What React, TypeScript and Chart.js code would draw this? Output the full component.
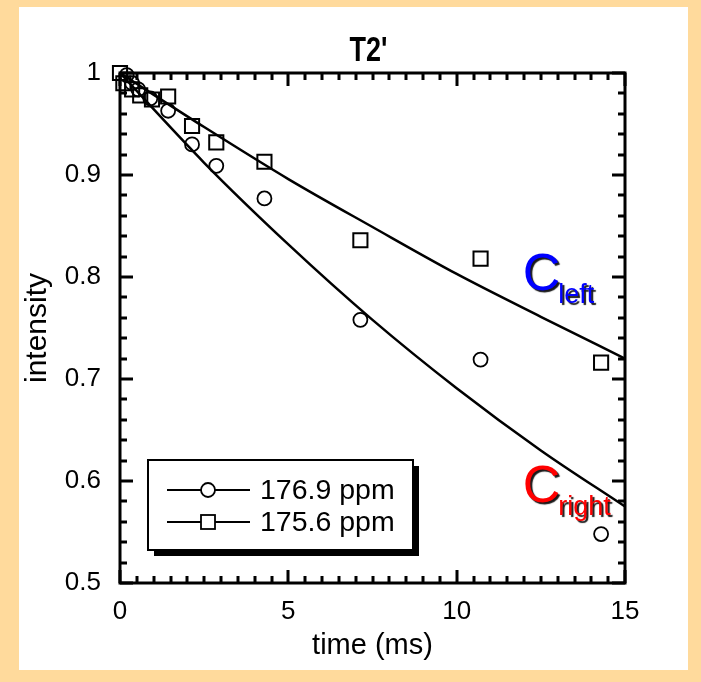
import React, { useEffect, useRef } from "react";
import { Chart, registerables } from "chart.js";

Chart.register(...registerables);

// ---------- data ----------
const CHART_TITLE = "T2'";
const X_TITLE = "time (ms)";
const Y_TITLE = "intensity";

const SERIES_A_LABEL = "176.9 ppm"; // circles
const SERIES_B_LABEL = "175.6 ppm"; // squares

const A_TIME = [0.2, 0.36, 0.54, 0.9, 1.43, 2.14, 2.86, 4.29, 7.14, 10.71, 14.29];
const A_VALUE = [0.998, 0.99, 0.984, 0.975, 0.963, 0.93, 0.909, 0.877, 0.758, 0.719, 0.548];

const B_TIME = [0, 0.1, 0.36, 0.6, 0.95, 1.43, 2.14, 2.86, 4.29, 7.14, 10.71, 14.29];
const B_VALUE = [1.0, 0.99, 0.984, 0.978, 0.974, 0.977, 0.948, 0.932, 0.913, 0.836, 0.818, 0.716];

const FIT_TIME = [0, 2.5, 5, 7.5, 10, 12.5, 15];
const FIT_A = [1.0, 0.912, 0.832, 0.758, 0.691, 0.63, 0.575];
const FIT_B = [1.0, 0.947, 0.896, 0.849, 0.803, 0.761, 0.72];

const X_MIN = 0;
const X_MAX = 15;
const X_MAJOR = [0, 5, 10, 15];
const X_MINOR_STEP = 0.5;
const Y_MIN = 0.5;
const Y_MAX = 1.0;
const Y_MAJOR = [0.5, 0.6, 0.7, 0.8, 0.9, 1.0];
const Y_MINOR_STEP = 0.02;

const ANNOTATIONS = [
  { main: "C", sub: "left", color: "#0000FF", t: 11.96, v: 0.787 },
  { main: "C", sub: "right", color: "#FF0000", t: 11.96, v: 0.579 },
];

// ---------- style ----------
const FONT = "'Liberation Sans', Arial, Helvetica, sans-serif";
const ORANGE = "#FFDA9C";

const pageBgPlugin = {
  id: "pageBg",
  beforeDraw(chart: any) {
    const { ctx, width, height } = chart;
    ctx.save();
    ctx.fillStyle = ORANGE;
    ctx.fillRect(0, 0, width, height);
    ctx.fillStyle = "#FFFFFF";
    ctx.fillRect(19, 7, 669, 663);
    ctx.restore();
  },
};

const framePlugin = {
  id: "frameTicks",
  afterDatasetsDraw(chart: any) {
    const { ctx, chartArea: ca, scales } = chart;
    const xs = scales.x;
    const ys = scales.y;
    ctx.save();
    ctx.strokeStyle = "#000";
    ctx.lineWidth = 3;
    ctx.lineCap = "butt";
    const isMajor = (v: number, majors: number[]) => majors.some((m) => Math.abs(m - v) < 1e-6);
    const nx = Math.round((X_MAX - X_MIN) / X_MINOR_STEP);
    for (let i = 0; i <= nx; i++) {
      const v = X_MIN + i * X_MINOR_STEP;
      const px = Math.round(xs.getPixelForValue(v));
      const len = isMajor(v, X_MAJOR) ? 13 : 7;
      ctx.beginPath();
      ctx.moveTo(px, ca.bottom);
      ctx.lineTo(px, ca.bottom - len);
      ctx.moveTo(px, ca.top);
      ctx.lineTo(px, ca.top + len);
      ctx.stroke();
    }
    const ny = Math.round((Y_MAX - Y_MIN) / Y_MINOR_STEP);
    for (let i = 0; i <= ny; i++) {
      const v = Y_MIN + i * Y_MINOR_STEP;
      const py = Math.round(ys.getPixelForValue(v));
      const len = isMajor(v, Y_MAJOR) ? 13 : 7;
      ctx.beginPath();
      ctx.moveTo(ca.left, py);
      ctx.lineTo(ca.left + len, py);
      ctx.moveTo(ca.right, py);
      ctx.lineTo(ca.right - len, py);
      ctx.stroke();
    }
    ctx.strokeRect(ca.left, ca.top, ca.right - ca.left, ca.bottom - ca.top);
    ctx.restore();
  },
  afterDraw(chart: any) {
    const { ctx, chartArea: ca, scales } = chart;

    // title (tall bold glyphs as in the reference)
    ctx.save();
    ctx.translate((ca.left + ca.right) / 2 - 4, ca.top - 22);
    ctx.scale(1, 1.3);
    ctx.fillStyle = "#000";
    ctx.font = `bold 27px ${FONT}`;
    ctx.textAlign = "center";
    ctx.textBaseline = "middle";
    ctx.fillText(CHART_TITLE, 0, 0);
    ctx.restore();

    // annotations
    ctx.save();
    for (const a of ANNOTATIONS) {
      const x = scales.x.getPixelForValue(a.t);
      const y = scales.y.getPixelForValue(a.v);
      ctx.shadowColor = "rgba(0,0,0,0.9)";
      ctx.shadowOffsetX = 2;
      ctx.shadowOffsetY = 2;
      ctx.shadowBlur = 1;
      ctx.fillStyle = a.color;
      ctx.textAlign = "left";
      ctx.textBaseline = "alphabetic";
      ctx.font = `52px ${FONT}`;
      ctx.fillText(a.main, x, y);
      const w = ctx.measureText(a.main).width;
      ctx.font = `27px ${FONT}`;
      ctx.fillText(a.sub, x + w - 2, y + 13);
    }
    ctx.restore();

    // legend box
    const lx = ca.left + 28;
    const ly = ca.top + 387;
    const lw = 265;
    const lh = 90;
    const sh = 6;
    ctx.save();
    ctx.fillStyle = "#000";
    ctx.beginPath();
    ctx.moveTo(lx + lw, ly + sh);
    ctx.lineTo(lx + lw + sh, ly + sh);
    ctx.lineTo(lx + lw + sh, ly + lh + sh);
    ctx.lineTo(lx + sh, ly + lh + sh);
    ctx.lineTo(lx + sh, ly + lh);
    ctx.lineTo(lx + lw, ly + lh);
    ctx.closePath();
    ctx.fill();
    ctx.fillStyle = "#FFF";
    ctx.fillRect(lx, ly, lw, lh);
    ctx.strokeStyle = "#000";
    ctx.lineWidth = 2;
    ctx.strokeRect(lx, ly, lw, lh);

    const rows = [
      { label: chart.data.datasets[0].label, style: "circle", y: ly + 30 },
      { label: chart.data.datasets[1].label, style: "rect", y: ly + 62 },
    ];
    for (const r of rows) {
      ctx.strokeStyle = "#000";
      ctx.lineWidth = 2;
      ctx.beginPath();
      ctx.moveTo(lx + 19, r.y);
      ctx.lineTo(lx + 102, r.y);
      ctx.stroke();
      const mx = lx + 60;
      ctx.fillStyle = "#FFF";
      ctx.lineWidth = 1.8;
      if (r.style === "circle") {
        ctx.beginPath();
        ctx.arc(mx, r.y, 7, 0, Math.PI * 2);
        ctx.fill();
        ctx.stroke();
      } else {
        ctx.fillRect(mx - 7, r.y - 7, 14, 14);
        ctx.strokeRect(mx - 7, r.y - 7, 14, 14);
      }
      ctx.fillStyle = "#000";
      ctx.font = `28.5px ${FONT}`;
      ctx.textAlign = "left";
      ctx.textBaseline = "middle";
      ctx.fillText(r.label, lx + 112, r.y + 1);
    }
    ctx.restore();
  },
};

export default function App() {
  const canvasRef = useRef<HTMLCanvasElement | null>(null);

  useEffect(() => {
    document.body.style.margin = "0";
    const canvas = canvasRef.current;
    if (!canvas) return;
    const toPts = (xs: number[], ys: number[]) => xs.map((x, i) => ({ x, y: ys[i] }));

    const chart = new Chart(canvas, {
      type: "scatter",
      data: {
        datasets: [
          {
            label: SERIES_A_LABEL,
            data: toPts(A_TIME, A_VALUE),
            showLine: false,
            pointStyle: "circle",
            pointRadius: 7,
            pointBorderWidth: 1.8,
            borderColor: "#000",
            backgroundColor: "rgba(0,0,0,0)",
            clip: false,
            order: 1,
          } as any,
          {
            label: SERIES_B_LABEL,
            data: toPts(B_TIME, B_VALUE),
            showLine: false,
            pointStyle: "rect",
            pointRadius: 10,
            pointBorderWidth: 2,
            borderColor: "#000",
            backgroundColor: "rgba(0,0,0,0)",
            clip: false,
            order: 1,
          } as any,
          {
            label: "fit " + SERIES_A_LABEL,
            data: toPts(FIT_TIME, FIT_A),
            showLine: true,
            pointRadius: 0,
            borderColor: "#000",
            borderWidth: 2.5,
            cubicInterpolationMode: "monotone",
            order: 2,
          } as any,
          {
            label: "fit " + SERIES_B_LABEL,
            data: toPts(FIT_TIME, FIT_B),
            showLine: true,
            pointRadius: 0,
            borderColor: "#000",
            borderWidth: 2.5,
            cubicInterpolationMode: "monotone",
            order: 2,
          } as any,
        ],
      },
      options: {
        responsive: false,
        animation: false,
        events: [],
        layout: { padding: { left: 20, top: 73, right: 76, bottom: 0 } },
        plugins: {
          legend: { display: false },
          tooltip: { enabled: false },
          title: { display: false },
        },
        scales: {
          x: {
            type: "linear",
            min: X_MIN,
            max: X_MAX,
            afterFit: (s: any) => {
              s.height = 99;
            },
            grid: { display: false, drawTicks: false },
            border: { display: false },
            ticks: {
              stepSize: 5,
              color: "#000",
              padding: 13,
              font: { family: FONT, size: 26 },
            },
            title: {
              display: true,
              text: X_TITLE,
              color: "#000",
              font: { family: FONT, size: 29 },
              padding: { top: 0, bottom: 19 },
            },
          },
          y: {
            type: "linear",
            min: Y_MIN,
            max: Y_MAX,
            afterFit: (s: any) => {
              s.width = 100;
            },
            grid: { display: false, drawTicks: false },
            border: { display: false },
            ticks: {
              stepSize: 0.1,
              color: "#000",
              padding: 19,
              font: { family: FONT, size: 26 },
              callback: (v: any) => String(Number(Number(v).toFixed(2))),
            },
            title: {
              display: true,
              text: Y_TITLE,
              color: "#000",
              font: { family: FONT, size: 30 },
              padding: { top: 0, bottom: 0 },
            },
          },
        },
      } as any,
      plugins: [pageBgPlugin, framePlugin],
    });
    return () => chart.destroy();
  }, []);

  return (
    <div style={{ position: "absolute", left: 0, top: 0, width: 701, height: 682 }}>
      <canvas ref={canvasRef} width={701} height={682} style={{ display: "block", width: 701, height: 682 }} />
    </div>
  );
}
